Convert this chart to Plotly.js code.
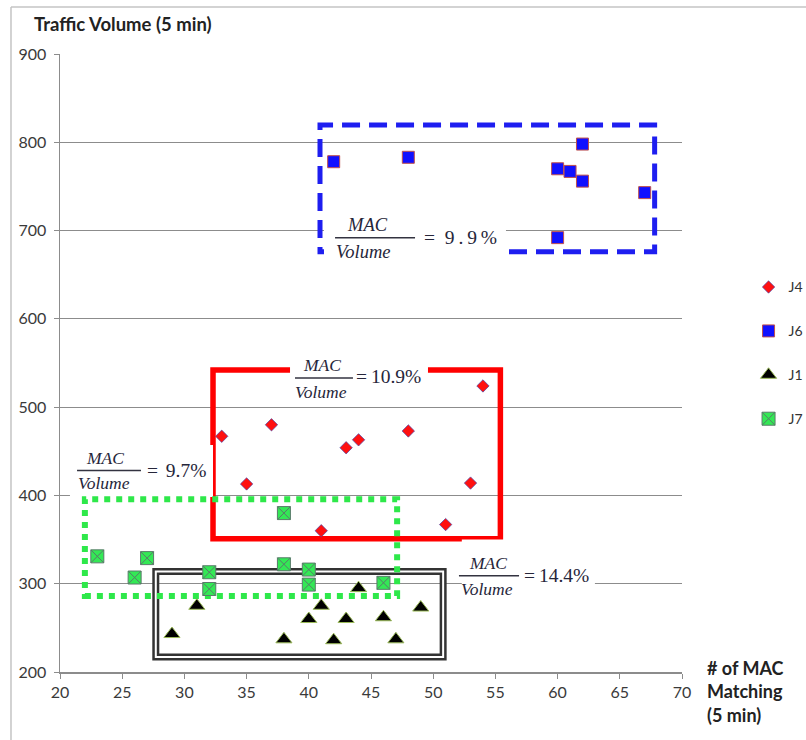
<!DOCTYPE html>
<html>
<head>
<meta charset="utf-8">
<script src="https://cdn.plot.ly/plotly-3.0.1.min.js"></script>
<style>
  html, body { margin: 0; padding: 0; background: #fff; }
  #chart { width: 806px; height: 740px; }
</style>
</head>
<body>
<div id="chart"></div>
<script>
// MAC matches vs. traffic volume per 5 minutes, one series per junction
const j4_x = [33, 35, 37, 41, 43, 44, 48, 51, 53, 54];
const j4_y = [467, 413, 480, 360, 454, 463, 473, 367, 414, 524];

const j6_x = [42, 48, 60, 60, 61, 62, 62, 67];
const j6_y = [778, 783, 770, 692, 767, 798, 756, 743];

const j1_x = [29, 31, 38, 40, 41, 42, 43, 44, 46, 47, 49];
const j1_y = [243, 275, 237, 260, 275, 236, 260, 295, 262, 237, 273];

const j7_x = [23, 26, 27, 32, 32, 38, 38, 40, 40, 46];
const j7_y = [331, 307, 329, 313, 294, 380, 322, 316, 299, 301];

// thin spaces stand in for the wide maths spacing of the original
const ratio_labels = ["=\u200910.9%", "=\u20029\u2009.\u20099\u2009%", "=\u2009\u20099.7%", "=\u200914.4%"];

const tick_font = {family: "Lato, sans-serif", size: 16, color: "#3a3a3a"};
const frac_font = {family: "Liberation Serif, serif", size: 17.5, color: "#26263a"};
const ratio_font = {family: "Liberation Serif, serif", size: 19.5, color: "#26263a"};

function series(name, xs, ys, symbol, size, fill, edge) {
    return {
        name: name,
        legendgroup: name,
        x: xs,
        y: ys,
        type: "scatter",
        mode: "markers",
        marker: {symbol: symbol, size: size, color: fill, line: {color: edge, width: 1}},
        hoverinfo: "x+y+name"
    };
}

const chart_data = [
    series("J4", j4_x, j4_y, "diamond", 9.5, "#ff1010", "rgba(70,70,170,0.7)"),
    series("J6", j6_x, j6_y, "square", 12, "#1010ff", "#c0504d"),
    series("J1", j1_x, j1_y, "triangle-up", 14, "#000000", "#9bbb59"),
    series("J7", j7_x, j7_y, "square-x", 13, "#33e855", "#5a7a6a")
];

function box(x0, x1, y0, y1, color, width, dash) {
    return {type: "rect", xref: "x", yref: "y", x0: x0, x1: x1, y0: y0, y1: y1,
            layer: "between", line: {color: color, width: width, dash: dash || "solid"}};
}

function blank(x0, x1, y0, y1) {
    return {type: "rect", xref: "x", yref: "y", x0: x0, x1: x1, y0: y0, y1: y1,
            layer: "between", fillcolor: "#ffffff", line: {width: 0}};
}

function bar(x0, x1, y) {
    return {type: "line", xref: "x", yref: "y", x0: x0, x1: x1, y0: y, y1: y,
            layer: "between", line: {color: "#333340", width: 1.5}};
}

const shapes = [
    box(32.3, 55.4, 351, 542, "#ff0000", 5.5),
    box(40.9, 67.8, 676, 819.6, "#1e1ef0", 5, "18px,9px"),
    box(27.7, 50.8, 217, 313.7, "#333333", 7),
    box(27.7, 50.8, 217, 313.7, "#ffffff", 2),
    blank(38.49, 49.58, 508, 558),
    blank(41.22, 55.85, 664.4, 721),
    blank(20.8, 32.3, 398.2, 457.1),
    blank(52.3, 63.0, 292, 350),
    box(22.0, 47.1, 286, 395.7, "#2ee84a", 6, "6px,6px"),
    bar(38.89, 43.55, 533),
    bar(42.11, 48.54, 691.9),
    bar(21.37, 26.51, 428.1),
    bar(52.07, 56.9, 309.1),
    // chart frame
    {type: "line", xref: "paper", yref: "paper", x0: -0.0788, x1: 1.3, y0: 1.076, y1: 1.076,
     line: {color: "#c4c4c4", width: 1.5}},
    {type: "line", xref: "paper", yref: "paper", x0: -0.0788, x1: -0.0788, y0: -0.2, y1: 1.076,
     line: {color: "#c4c4c4", width: 1.5}}
];

function eq(x, y, text, anchor, font) {
    return {xref: "x", yref: "y", x: x, y: y, text: text, showarrow: false,
            xanchor: anchor || "center", yanchor: "middle", font: font || frac_font};
}

const big_frac = Object.assign({}, frac_font, {size: 18.5});

const annotations = [
    eq(41.06, 547.8, "<i>MAC</i>"), eq(40.98, 517.2, "<i>Volume</i>"),
    eq(43.65, 534.2, ratio_labels[0], "left", ratio_font),
    eq(44.68, 706.3, "<i>MAC</i>", "center", big_frac), eq(44.36, 675.7, "<i>Volume</i>", "center", big_frac),
    eq(49.1, 692.7, ratio_labels[1], "left", ratio_font),
    eq(23.62, 442.4, "<i>MAC</i>"), eq(23.54, 414.1, "<i>Volume</i>"),
    eq(26.8, 427.7, ratio_labels[2], "left", ratio_font),
    eq(54.37, 323.5, "<i>MAC</i>"), eq(54.32, 294, "<i>Volume</i>"),
    eq(57.15, 308.8, ratio_labels[3], "left", ratio_font),
    {xref: "paper", yref: "paper", x: -0.045, y: 1.0485, xanchor: "left", yanchor: "middle",
     text: "<b>Traffic Volume (5 min)</b>", showarrow: false,
     font: {family: "Lato, sans-serif", size: 18.5, color: "#222222"}},
    {xref: "paper", yref: "paper", x: 1.037, y: 0.028, xanchor: "left", yanchor: "top", align: "left",
     text: "<b># of MAC<br>Matching<br>(5 min)</b>", showarrow: false,
     font: {family: "Lato, sans-serif", size: 18, color: "#222222"}}
];

const chart_layout = {
    width: 806,
    height: 740,
    margin: {l: 60, r: 124, t: 54, b: 68, autoexpand: false},
    paper_bgcolor: "#ffffff",
    plot_bgcolor: "#ffffff",
    showlegend: true,
    legend: {
        x: 1.107, y: 0.6482, xanchor: "left", yanchor: "top",
        font: {family: "Lato, sans-serif", size: 14, color: "#333333"},
        tracegroupgap: 22.7,
        bgcolor: "rgba(0,0,0,0)"
    },
    xaxis: {
        range: [20, 70],
        dtick: 5,
        showgrid: false,
        zeroline: false,
        showline: true,
        linecolor: "#8c8c8c",
        linewidth: 1.5,
        ticks: "outside",
        ticklen: 5,
        tickcolor: "#8c8c8c",
        tickfont: tick_font,
        fixedrange: true
    },
    yaxis: {
        range: [200, 900],
        dtick: 100,
        showgrid: true,
        gridcolor: "#8c8c8c",
        gridwidth: 1,
        zeroline: false,
        showline: true,
        linecolor: "#8c8c8c",
        linewidth: 1.5,
        ticks: "outside",
        ticklen: 5,
        tickcolor: "#8c8c8c",
        tickfont: tick_font,
        ticklabelstandoff: 4,
        fixedrange: true
    },
    shapes: shapes,
    annotations: annotations
};

Plotly.newPlot("chart", chart_data, chart_layout, {displayModeBar: false, staticPlot: true});
</script>
</body>
</html>
